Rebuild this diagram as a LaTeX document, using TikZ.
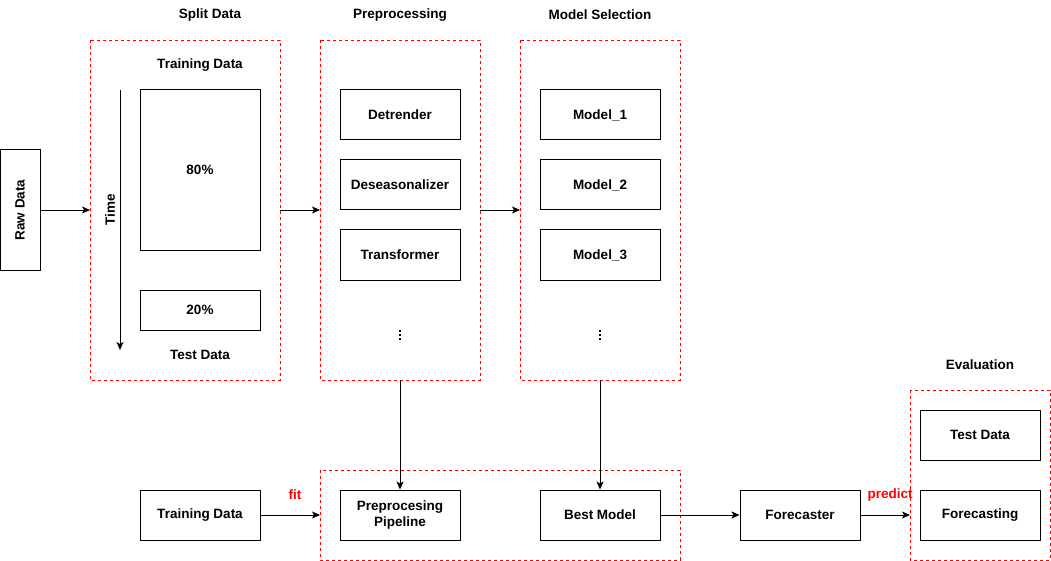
\documentclass[tikz,border=0pt]{standalone}
\usepackage{fontspec}
\setmainfont{Liberation Sans}
\usetikzlibrary{arrows.meta}
\begin{document}
\begin{tikzpicture}[x=1pt,y=-1pt,
  font=\fontsize{13.5}{15.5}\selectfont\bfseries,
  box/.style={draw=black,line width=1pt,fill=white,minimum width=120pt,minimum height=50pt,inner sep=0pt,align=center},
  grp/.style={draw=red,line width=0.9pt,dash pattern=on 3pt off 3pt},
  conn/.style={line width=0.9pt,-{Stealth[length=8pt,width=7pt,inset=2pt]}},
  lbl/.style={inner sep=0pt},
  redl/.style={inner sep=0pt,text=red},
  dot/.style={fill=black,minimum size=2.6pt,inner sep=0pt,rectangle}]
\useasboundingbox (0,0) rectangle (1051,561);
% groups
\draw[grp] (90,40) rectangle (280,380);
\draw[grp] (320,40) rectangle (480,380);
\draw[grp] (520,40) rectangle (680,380);
\draw[grp] (320,470) rectangle (680,560);
\draw[grp] (910,390) rectangle (1050,560);
\coordinate (splitW) at (90,210);
\coordinate (splitE) at (280,210);
\coordinate (preW) at (320,210);
\coordinate (preE) at (480,210);
\coordinate (modW) at (520,210);
\coordinate (preS) at (400,380);
\coordinate (modS) at (600,380);
\coordinate (botW) at (320,515);
\coordinate (evalW) at (910,515);
% titles
\node[lbl] (t1) at (210,15) {Split Data};
\node[lbl] (t2) at (400,15) {Preprocessing};
\node[lbl] (t3) at (600,15) {Model Selection};
\node[lbl] (t4) at (980,365) {Evaluation};
% raw data
\node[box,minimum width=40pt,minimum height=120pt] (raw) at (20,210) {};
\node[lbl,rotate=90] (rawt) at (20,210) {Raw Data};
% split
\node[lbl] (trn) at (200,65) {Training Data};
\node[box,minimum height=160pt] (p80) at (200,170) {80\%};
\node[box,minimum height=40pt] (p20) at (200,310) {20\%};
\node[lbl] (tst) at (200,355) {Test Data};
\coordinate (timeA) at (120,90);
\coordinate (timeB) at (120,350);
\draw[conn] (timeA) -- (timeB);
\node[lbl,rotate=90] (time) at (110,210) {Time};
% preprocessing
\node[box] (det) at (400,115) {Detrender};
\node[box] (des) at (400,185) {Deseasonalizer};
\node[box] (trf) at (400,255) {Transformer};
\node[dot] (d1a) at (400,331) {};
\node[dot] (d1b) at (400,335) {};
\node[dot] (d1c) at (400,339) {};
% models
\node[box] (m1) at (600,115) {Model\_1};
\node[box] (m2) at (600,185) {Model\_2};
\node[box] (m3) at (600,255) {Model\_3};
\node[dot] (d2a) at (600,331) {};
\node[dot] (d2b) at (600,335) {};
\node[dot] (d2c) at (600,339) {};
% bottom
\node[box] (td) at (200,515) {Training Data};
\node[box] (pp) at (400,515) {Preprocesing\\Pipeline};
\node[box] (bm) at (600,515) {Best Model};
\node[box] (fc) at (800,515) {Forecaster};
\node[box] (etd) at (980,435) {Test Data};
\node[box] (efc) at (980,515) {Forecasting};
\node[redl] (fit) at (295,495) {fit};
\node[redl] (pred) at (890,495) {predict};
% connectors
\draw[conn] (raw.east) -- (splitW);
\draw[conn] (splitE) -- (preW);
\draw[conn] (preE) -- (modW);
\draw[conn] (preS) -- (pp.north);
\draw[conn] (modS) -- (bm.north);
\draw[conn] (td.east) -- (botW);
\draw[conn] (bm.east) -- (fc.west);
\draw[conn] (fc.east) -- (evalW);
\end{tikzpicture}
\end{document}
